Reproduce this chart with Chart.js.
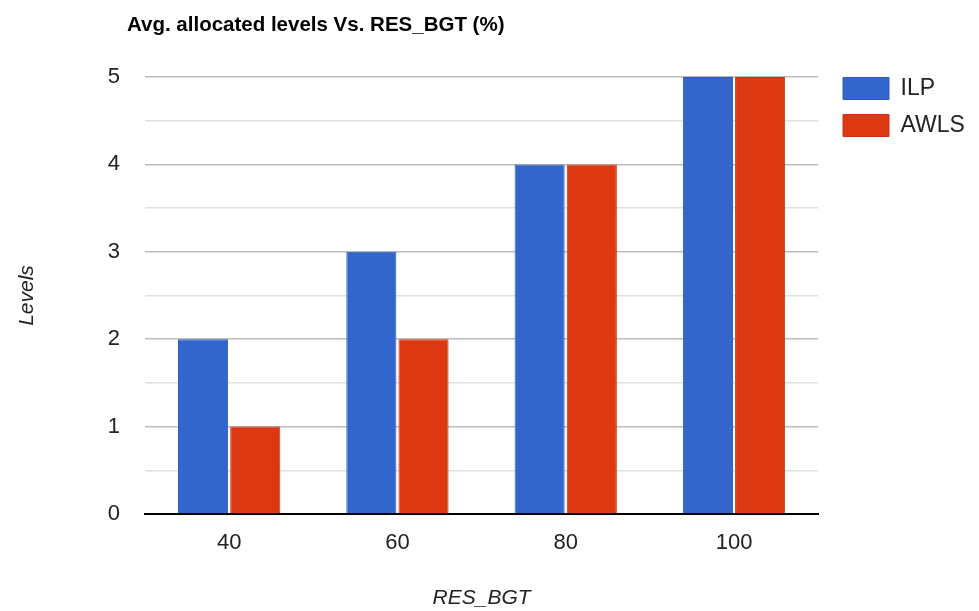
<!DOCTYPE html>
<html>
<head>
<meta charset="utf-8">
<script src="https://cdn.jsdelivr.net/npm/chart.js@4.4.1/dist/chart.umd.min.js"></script>
<style>
  html, body { margin: 0; padding: 0; background: #fff; }
  #wrap { width: 979px; height: 611px; }
</style>
</head>
<body>
<div id="wrap"><canvas id="chart"></canvas></div>
<script>
const categories = ["40", "60", "80", "100"];
const ilpValues = [2, 3, 4, 5];
const awlsValues = [1, 2, 4, 5];
const seriesNames = ["ILP", "AWLS"];
const chartTitle = "Avg. allocated levels Vs. RES_BGT (%)";
const xTitle = "RES_BGT";
const yTitle = "Levels";

const FONT = "'Liberation Sans', Arial, sans-serif";

// title drawn top-left, outside of the plot box
const titlePlugin = {
  id: "topTitle",
  afterDraw(chart) {
    const ctx = chart.ctx;
    ctx.save();
    ctx.font = "bold 20.5px " + FONT;
    ctx.fillStyle = "#000";
    ctx.textBaseline = "alphabetic";
    ctx.textAlign = "left";
    ctx.fillText(chartTitle, 127, 31);
    ctx.restore();
  },
};

// move the legend up so the first key lines up with the top gridline
const legendNudge = {
  id: "legendNudge",
  beforeDraw(chart) {
    const lg = chart.legend;
    if (!lg) return;
    lg.top = chart.chartArea.top - lg.options.labels.padding;
    lg.left = 829;
  },
};

new Chart(document.getElementById("chart").getContext("2d"), {
  type: "bar",
  data: {
    labels: categories,
    datasets: [
      {
        label: seriesNames[0],
        data: ilpValues,
        backgroundColor: "#3366CC",
        borderColor: "#2d5bbd",
        borderWidth: 1,
        categoryPercentage: 0.62,
        barPercentage: 0.96,
      },
      {
        label: seriesNames[1],
        data: awlsValues,
        backgroundColor: "#DC3912",
        borderColor: "#cc3210",
        borderWidth: 1,
        categoryPercentage: 0.62,
        barPercentage: 0.96,
      },
    ],
  },
  options: {
    responsive: true,
    maintainAspectRatio: false,
    animation: false,
    layout: {
      padding: { top: 77, left: 0, right: 15, bottom: 0 },
    },
    scales: {
      x: {
        afterFit(scale) {
          scale.height = 97;
        },
        grid: { display: false, drawTicks: false },
        border: { display: true, color: "#000", width: 2 },
        ticks: {
          padding: 16,
          color: "#222",
          font: { family: FONT, size: 22 },
        },
        title: {
          display: true,
          text: xTitle,
          color: "#222",
          padding: { top: 0, bottom: 0 },
          font: { family: FONT, size: 21, style: "italic" },
        },
      },
      y: {
        min: 0,
        max: 5,
        afterFit(scale) {
          scale.width = 145;
        },
        border: { display: false },
        grid: {
          drawTicks: false,
          lineWidth: 1.5,
          color: (ctx) => (ctx.tick && ctx.tick.value % 1 === 0 ? "#bdbdbd" : "#e0e0e0"),
        },
        ticks: {
          stepSize: 0.5,
          padding: 25,
          color: "#222",
          font: { family: FONT, size: 22 },
          callback: function (value) {
            return value % 1 === 0 ? String(value) : "";
          },
        },
        title: {
          display: true,
          text: yTitle,
          color: "#222",
          padding: { top: 15, bottom: 0 },
          font: { family: FONT, size: 21, style: "italic" },
        },
      },
    },
    plugins: {
      legend: {
        display: true,
        position: "right",
        align: "start",
        labels: {
          boxWidth: 46,
          boxHeight: 22,
          padding: 14,
          color: "#222",
          font: { family: FONT, size: 23 },
        },
      },
      tooltip: { enabled: false },
    },
  },
  plugins: [titlePlugin, legendNudge],
});
</script>
</body>
</html>
